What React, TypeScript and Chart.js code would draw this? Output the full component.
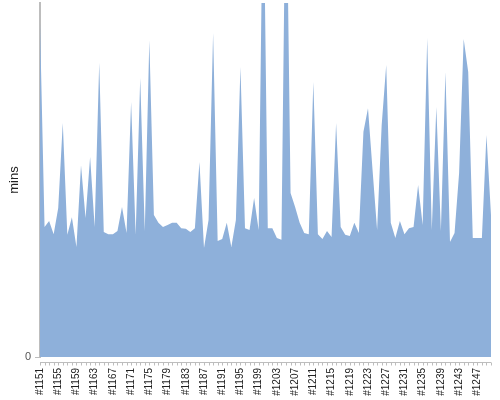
import React, { useEffect, useRef } from "react";
import { Chart, registerables } from "chart.js";

Chart.register(...registerables);

const FIRST_BUILD = 1151;

// minutes per build (relative scale, axis max = 100)
const buildMinutes: number[] = [
  94.4, 36.7, 38.4, 34.7, 42.1, 66.1, 34.5, 39.5, 31.1, 54.2,
  39.3, 56.5, 36.7, 83.1, 35.3, 34.7, 34.7, 35.6, 42.4, 35.0,
  72.0, 34.5, 78.8, 35.6, 89.5, 40.1, 37.9, 36.7, 37.3, 37.9,
  37.9, 36.4, 36.2, 35.3, 36.4, 55.1, 30.8, 38.7, 91.5, 32.8,
  33.3, 37.9, 31.1, 38.7, 81.9, 36.4, 35.9, 44.9, 35.9, 140.4,
  36.4, 36.4, 33.6, 33.1, 146.0, 46.3, 42.4, 37.9, 35.0, 34.7,
  77.7, 34.7, 33.3, 35.6, 33.9, 66.1, 36.7, 34.5, 34.2, 37.9,
  35.0, 63.6, 70.3, 52.8, 35.9, 65.5, 82.5, 37.9, 33.6, 38.4,
  34.7, 36.4, 36.7, 48.6, 37.3, 90.1, 35.9, 70.6, 35.6, 80.5,
  32.5, 35.0, 52.0, 89.8, 80.5, 33.6, 33.6, 33.6, 62.7, 40.1,
];

const buildLabels: string[] = buildMinutes.map((_, i) => "#" + (FIRST_BUILD + i));
const yTickValues: number[] = [0];
const Y_MAX = 100;
const LABEL_EVERY = 4;

const combPlugin = {
  id: "comb",
  afterDraw(chart: any) {
    const { ctx, chartArea, scales } = chart;
    const x = scales.x;
    const y0 = Math.round(chartArea.bottom) + 5.5;
    ctx.save();
    ctx.strokeStyle = "#bdbdbd";
    ctx.lineWidth = 1;
    ctx.beginPath();
    ctx.moveTo(chartArea.left, y0);
    ctx.lineTo(chartArea.right, y0);
    for (let i = 0; i < buildLabels.length; i++) {
      const px = Math.round(x.getPixelForValue(i)) + 0.5;
      ctx.moveTo(px, y0);
      ctx.lineTo(px, y0 + 3);
    }
    ctx.stroke();
    ctx.restore();
  },
};

export default function App() {
  const ref = useRef<HTMLCanvasElement | null>(null);

  useEffect(() => {
    if (!ref.current) return;
    const chart = new Chart(ref.current, {
      type: "line",
      data: {
        labels: buildLabels,
        datasets: [
          {
            data: buildMinutes,
            fill: "origin",
            backgroundColor: "#8eb0da",
            borderWidth: 0,
            borderColor: "#8eb0da",
            pointRadius: 0,
            tension: 0,
          },
        ],
      },
      options: {
        animation: false,
        responsive: false,
        layout: { padding: { top: 3, right: 9, left: 0, bottom: 0 } },
        plugins: {
          legend: { display: false },
          tooltip: { enabled: false },
        },
        scales: {
          x: {
            type: "category",
            grid: { display: false, drawTicks: false },
            border: { display: false },
            ticks: {
              autoSkip: false,
              minRotation: 90,
              maxRotation: 90,
              padding: 11,
              color: "#222",
              font: { family: "'Liberation Sans', Arial, sans-serif", size: 10 },
              callback: (_v: any, idx: number) =>
                idx % LABEL_EVERY === 0 ? buildLabels[idx] : "",
            },
            afterFit: (scale: any) => {
              scale.height = 43;
              scale.paddingLeft = 0;
              scale.paddingRight = 0;
            },
          },
          y: {
            min: 0,
            max: Y_MAX,
            afterBuildTicks: (scale: any) => {
              scale.ticks = yTickValues.map((v) => ({ value: v }));
            },
            grid: {
              drawOnChartArea: false,
              drawTicks: true,
              tickLength: 5,
              color: "#bdbdbd",
            },
            border: { display: true, color: "#bdbdbd", width: 2 },
            ticks: {
              padding: 4,
              color: "#555",
              font: { family: "'Liberation Sans', Arial, sans-serif", size: 11 },
            },
            title: {
              display: true,
              text: "mins",
              color: "#222",
              padding: { top: 7, bottom: 0 },
              font: { family: "'Liberation Sans', Arial, sans-serif", size: 13 },
            },
            afterFit: (scale: any) => {
              scale.width = 40;
              scale.paddingTop = 0;
              scale.paddingBottom = 0;
            },
          },
        },
      },
      plugins: [combPlugin],
    });
    return () => chart.destroy();
  }, []);

  return (
    <canvas
      ref={ref}
      width={500}
      height={400}
      style={{ position: "absolute", left: 0, top: 0, display: "block" }}
    />
  );
}
